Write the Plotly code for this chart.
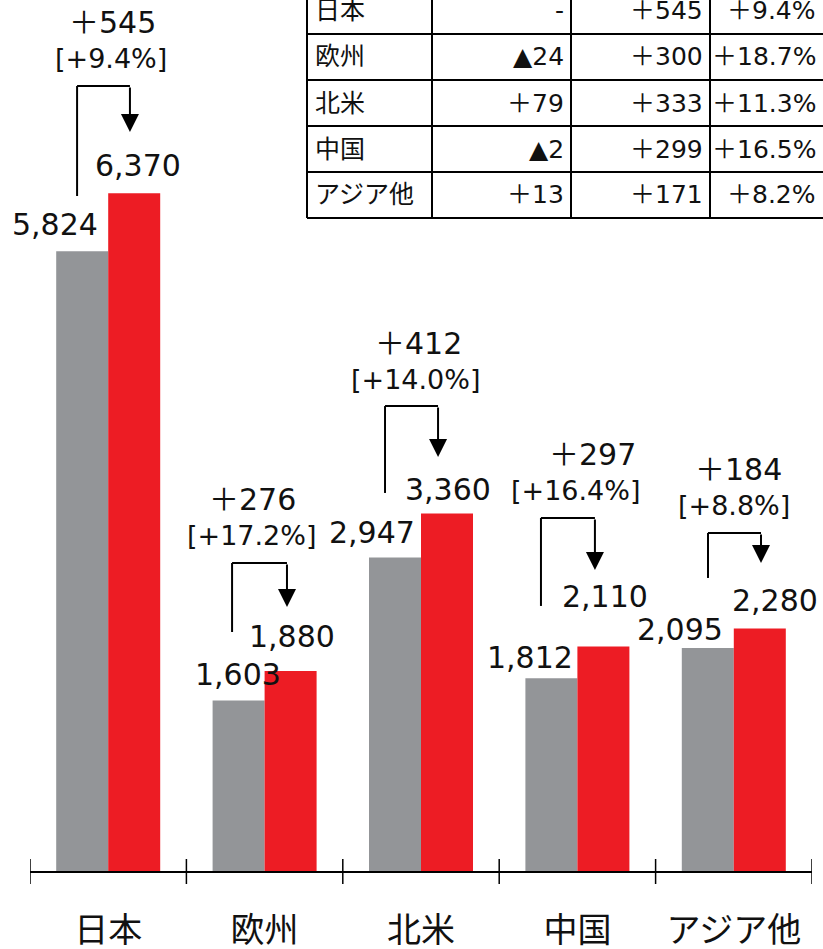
import plotly.graph_objects as go

# ---------------- data ----------------
categories = ["日本", "欧州", "北米", "中国", "アジア他"]
prev_values = [5824, 1603, 2947, 1812, 2095]
curr_values = [6370, 1880, 3360, 2110, 2280]
prev_labels = ["5,824", "1,603", "2,947", "1,812", "2,095"]
curr_labels = ["6,370", "1,880", "3,360", "2,110", "2,280"]
delta_labels = ["＋545", "＋276", "＋412", "＋297", "＋184"]
delta_pct_labels = ["[+9.4%]", "[+17.2%]", "[+14.0%]", "[+16.4%]", "[+8.8%]"]

table_regions = ["日本", "欧州", "北米", "中国", "アジア他"]
table_col1 = ["-", "▲24", "＋79", "▲2", "＋13"]
table_col2 = ["＋545", "＋300", "＋333", "＋299", "＋171"]
table_col3 = ["＋9.4%", "＋18.7%", "＋11.3%", "＋16.5%", "＋8.2%"]

# ---------------- layout helpers (styling / positions) ----------------
GRAY = "#939598"
RED = "#ED1C24"
FONT = "DejaVu Sans, Noto Sans CJK JP, sans-serif"
W, H = 823, 949
ML, MR, MT, MB = 30, 11, 0, 78
PW, PH = W - ML - MR, H - MT - MB
YMAX = 8186
HALF = 0.166  # bar-centre offset inside group (category units)

# label offsets in px (x, y above bar top)
prev_lab_dx = [-27, -1, -23, -21, -28]
prev_lab_dy = [27, 26, 25, 21, 19]
curr_lab_dx = [4, 1, 1, 2, 15]
curr_lab_dy = [28, 34, 24, 50, 28]
# bracket geometry (category-unit x offsets, value-unit levels)
br_left = [-0.199, -0.208, -0.230, -0.233, -0.165]
br_right = [0.139, 0.143, 0.109, 0.112, 0.174]
br_start = [6344, 2246, 3553, 2491, 2754]
br_top = [7378, 2895, 4370, 3318, 3177]
br_tip = [6945, 2481, 3891, 2829, 2895]
delta_dx = [4, -12, -3, 15, 5]
pct_dx = [3, -13, -6, -2, 0]


def px_x(px):
    return (px - ML) / PW


def px_y(py):
    return (H - MB - py) / PH


fig = go.Figure()
fig.add_trace(go.Bar(x=categories, y=prev_values, marker_color=GRAY,
                     marker_line_width=0, name="prev"))
fig.add_trace(go.Bar(x=categories, y=curr_values, marker_color=RED,
                     marker_line_width=0, name="curr"))

ann = []
shapes = []
for i in range(len(categories)):
    ann.append(dict(x=i - HALF, y=prev_values[i], xref="x", yref="y",
                    text=prev_labels[i], showarrow=False, xanchor="center",
                    yanchor="middle", xshift=prev_lab_dx[i], yshift=prev_lab_dy[i],
                    font=dict(size=30, color="#111", family=FONT)))
    ann.append(dict(x=i + HALF, y=curr_values[i], xref="x", yref="y",
                    text=curr_labels[i], showarrow=False, xanchor="center",
                    yanchor="middle", xshift=curr_lab_dx[i], yshift=curr_lab_dy[i],
                    font=dict(size=30, color="#111", family=FONT)))
    # bracket
    xl, xr = i + br_left[i], i + br_right[i]
    shapes.append(dict(type="line", xref="x", yref="y", x0=xl, x1=xl,
                       y0=br_start[i], y1=br_top[i], line=dict(color="black", width=2)))
    shapes.append(dict(type="line", xref="x", yref="y", x0=xl, x1=xr,
                       y0=br_top[i], y1=br_top[i], line=dict(color="black", width=2)))
    ann.append(dict(x=xr, y=br_tip[i], ax=xr, ay=br_top[i], xref="x", yref="y",
                    axref="x", ayref="y", text="", showarrow=True, arrowhead=2,
                    arrowsize=1.8, arrowwidth=2, arrowcolor="black", standoff=0))
    xm = i
    ann.append(dict(x=xm, y=br_top[i], xref="x", yref="y", text=delta_labels[i],
                    showarrow=False, xanchor="center", yanchor="middle",
                    xshift=delta_dx[i], yshift=63,
                    font=dict(size=30, color="#111", family=FONT)))
    ann.append(dict(x=xm, y=br_top[i], xref="x", yref="y", text=delta_pct_labels[i],
                    showarrow=False, xanchor="center", yanchor="middle",
                    xshift=pct_dx[i], yshift=27,
                    font=dict(size=27, color="#111", family=FONT)))

# axis ticks crossing the baseline at category boundaries
for b in range(len(categories) + 1):
    shapes.append(dict(type="line", xref="x", yref="paper", x0=b - 0.5, x1=b - 0.5,
                       y0=-13 / PH, y1=12 / PH, line=dict(color="black", width=1.5)))

# table (top-right, partly cut by the image edge)
col_x = [307, 432, 571, 710, 849]
text_right = [566, 705, 818]
row_y = [-12, 34, 80, 126, 172, 218]
for cx in col_x:
    shapes.append(dict(type="line", xref="paper", yref="paper", x0=px_x(cx), x1=px_x(cx),
                       y0=px_y(row_y[0]), y1=px_y(row_y[-1]),
                       line=dict(color="black", width=2)))
for ry in row_y:
    shapes.append(dict(type="line", xref="paper", yref="paper", x0=px_x(col_x[0]),
                       x1=px_x(col_x[-1]), y0=px_y(ry), y1=px_y(ry),
                       line=dict(color="black", width=2)))
tfont = dict(size=25, color="#111", family=FONT)
for r in range(len(table_regions)):
    yc = px_y((row_y[r] + row_y[r + 1]) / 2)
    ann.append(dict(x=px_x(col_x[0] + 6), y=yc, xref="paper", yref="paper",
                    text=table_regions[r], showarrow=False, xanchor="left",
                    yanchor="middle", font=tfont))
    for c, col in enumerate([table_col1, table_col2, table_col3]):
        ann.append(dict(x=px_x(text_right[c]), y=yc, xref="paper", yref="paper",
                        text=col[r], showarrow=False, xanchor="right",
                        yanchor="middle", font=tfont))

fig.update_layout(
    template="none",
    width=W, height=H,
    margin=dict(l=ML, r=MR, t=MT, b=MB, autoexpand=False),
    paper_bgcolor="white", plot_bgcolor="white",
    barmode="group", bargap=0.335, bargroupgap=0,
    showlegend=False,
    annotations=ann, shapes=shapes,
    font=dict(family=FONT, color="#111"),
    xaxis=dict(showline=True, linecolor="black", linewidth=1.5, ticks="",
               range=[-0.5, 4.5], automargin=False,
               showgrid=False, zeroline=False, ticklabelstandoff=28,
               tickfont=dict(size=34, color="#111", family=FONT)),
    yaxis=dict(visible=False, range=[0, YMAX], showgrid=False, zeroline=False,
               automargin=False),
)

fig.write_html("out.html", config={"displayModeBar": False},
               post_script="document.body.style.margin='0px';")
